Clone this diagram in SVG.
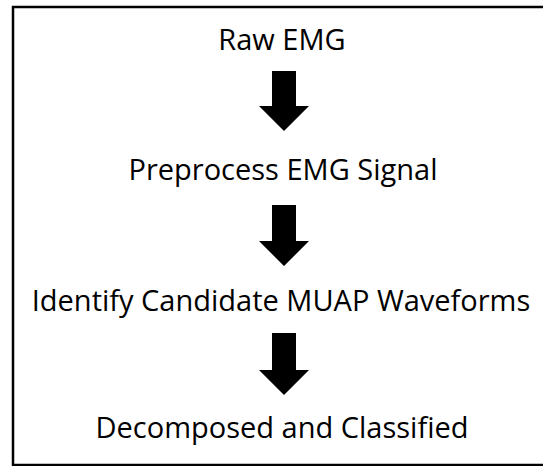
<svg xmlns="http://www.w3.org/2000/svg" width="543" height="466" viewBox="0 0 543 466">
  <style>
    .lbl { font-family: "Open Sans", "Liberation Sans", sans-serif; font-size: 29px; fill: #000; text-anchor: middle; }
    .arr { fill: #000; }
  </style>
  <rect x="0" y="0" width="543" height="466" fill="#fff"/>
  <rect x="13" y="7" width="560" height="458" fill="none" stroke="#000" stroke-width="2.5"/>
  <g id="node-raw"><text class="lbl" x="282" y="50">Raw EMG</text></g>
  <g id="node-preprocess"><text class="lbl" x="283" y="180">Preprocess EMG Signal</text></g>
  <g id="node-identify"><text class="lbl" x="281" y="311">Identify Candidate MUAP Waveforms</text></g>
  <g id="node-decomposed"><text class="lbl" x="282" y="438">Decomposed and Classified</text></g>
  <g id="connectors">
    <path class="arr" d="M272,71 H296 V106 H309 L284,131 L259,106 H272 Z"/>
    <path class="arr" d="M272,205 H296 V241 H309 L284,266 L259,241 H272 Z"/>
    <path class="arr" d="M272,333 H296 V370 H309 L284,395 L259,370 H272 Z"/>
  </g>
</svg>
